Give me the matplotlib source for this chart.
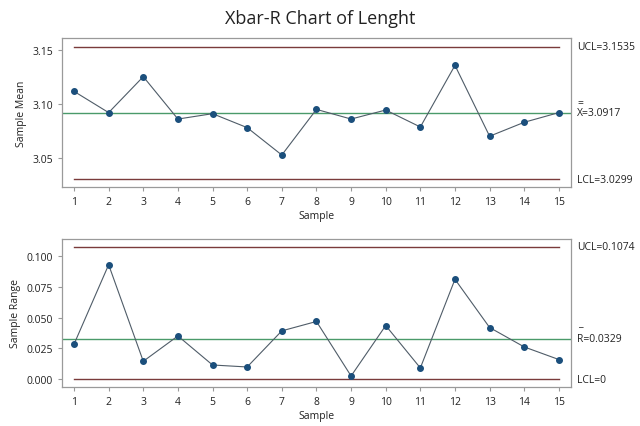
import matplotlib
matplotlib.use("Agg")
import matplotlib.pyplot as plt

samples = list(range(1, 16))
means = [3.1118, 3.0920, 3.1255, 3.0860, 3.0910, 3.0780, 3.0525, 3.0950,
         3.0860, 3.0944, 3.0786, 3.1360, 3.0700, 3.0830, 3.0920]
ranges = [0.0284, 0.0927, 0.0146, 0.0351, 0.0116, 0.0100, 0.0392, 0.0468,
          0.0027, 0.0435, 0.0092, 0.0809, 0.0419, 0.0262, 0.0160]
xbar_limits = {"UCL": 3.1535, "CL": 3.0917, "LCL": 3.0299}
r_limits = {"UCL": 0.1074, "CL": 0.0329, "LCL": 0.0}
mean_ticks = [3.05, 3.10, 3.15]
range_ticks = [0.000, 0.025, 0.050, 0.075, 0.100]

plt.rcParams['font.family'] = ['Open Sans', 'DejaVu Sans']

W, H = 640, 427
fig = plt.figure(figsize=(6.4, 4.27), dpi=100)

LIMIT_C = "#7a3b3b"
CL_C = "#4a9a6a"
LINE_C = "#4f5c68"
MARK_C = "#1b4f7c"
FRAME_C = "#9a9a9a"
TXT_C = "#222222"
FS = 7.5

def ax_rect(x0, y0, x1, y1):
    return [x0 / W, 1 - y1 / H, (x1 - x0) / W, (y1 - y0) / H]

ax1 = fig.add_axes(ax_rect(62, 39, 571, 188))
ax2 = fig.add_axes(ax_rect(62, 240, 571, 388))

def style(ax, ylim, yticks, fmt, ylabel):
    ax.set_xlim(0.653, 15.35)
    ax.set_ylim(*ylim)
    ax.set_xticks(samples)
    ax.set_xticklabels([str(s) for s in samples])
    ax.set_yticks(yticks)
    ax.set_yticklabels([fmt.format(v) for v in yticks])
    for s in ax.spines.values():
        s.set_color(FRAME_C)
        s.set_linewidth(0.9)
    ax.tick_params(axis='both', colors=FRAME_C, labelcolor=TXT_C, labelsize=FS, length=3, width=0.8)
    ax.set_xlabel("Sample", fontsize=FS, color=TXT_C, labelpad=2)
    ax.set_ylabel(ylabel, fontsize=FS, color=TXT_C, labelpad=4)

def draw(ax, vals, lim):
    ax.plot([1, 15], [lim["UCL"], lim["UCL"]], color=LIMIT_C, lw=1.0)
    ax.plot([1, 15], [lim["LCL"], lim["LCL"]], color=LIMIT_C, lw=1.0)
    ax.axhline(lim["CL"], color=CL_C, lw=1.0)
    ax.plot(samples, vals, color=LINE_C, lw=0.8, marker='o', markersize=4.0,
            markerfacecolor=MARK_C, markeredgecolor=MARK_C, zorder=3)

draw(ax1, means, xbar_limits)
style(ax1, (3.0227, 3.1615), mean_ticks, "{:.2f}", "Sample Mean")
draw(ax2, ranges, r_limits)
style(ax2, (-0.0062, 0.1135), range_ticks, "{:.3f}", "Sample Range")

XL = (577 - 62) / 509
def label(ax, y, text, over=None, dy=7.5):
    tr = ax.get_yaxis_transform()
    ax.text(XL, y, text, transform=tr, fontsize=FS,
            color=TXT_C, va='center', ha='left', clip_on=False)
    if over:
        ax.annotate(over, xy=(XL, y), xycoords=tr, xytext=(0.5, dy),
                    textcoords='offset points', fontsize=FS, color=TXT_C,
                    va='center', ha='left', annotation_clip=False)

label(ax1, xbar_limits["UCL"], "UCL={:.4f}".format(xbar_limits["UCL"]))
label(ax1, xbar_limits["CL"], "X={:.4f}".format(xbar_limits["CL"]), over="=", dy=7.5)
label(ax1, xbar_limits["LCL"], "LCL={:.4f}".format(xbar_limits["LCL"]))
label(ax2, r_limits["UCL"], "UCL={:.4f}".format(r_limits["UCL"]))
label(ax2, r_limits["CL"], "R={:.4f}".format(r_limits["CL"]), over="_", dy=11.5)
label(ax2, r_limits["LCL"], "LCL=0")

fig.text(0.5, 1 - 19 / H, "Xbar-R Chart of Lenght", ha='center', va='center',
         fontsize=13, color=TXT_C)

fig.savefig("out.png", dpi=100, facecolor="white")
